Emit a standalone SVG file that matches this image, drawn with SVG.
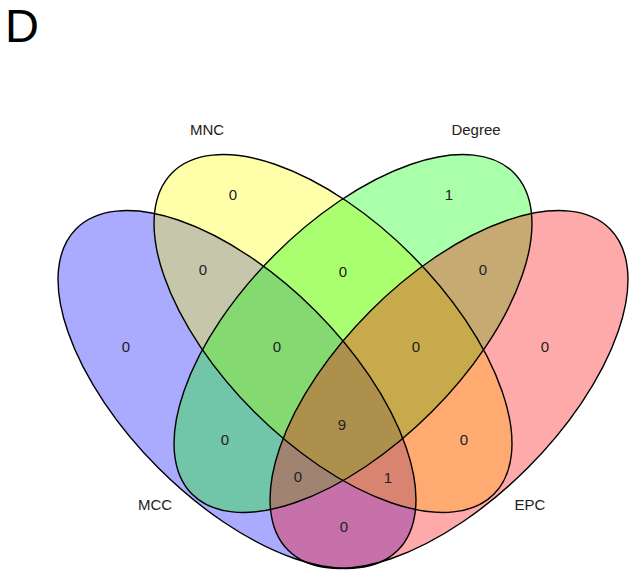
<svg xmlns="http://www.w3.org/2000/svg" width="642" height="578" viewBox="0 0 642 578">
<style>
.fill{stroke:none;fill-opacity:0.333}
.edge{fill:none;stroke:#000;stroke-width:1.4}
.lbl{font-family:"Liberation Sans",Arial,sans-serif;font-size:15px;fill:#222;text-anchor:middle}
.num{font-family:"Liberation Sans",Arial,sans-serif;font-size:15px;fill:#222;text-anchor:middle}
</style>
<rect width="642" height="578" fill="#fff"/>
<text x="5" y="42" font-family="Liberation Sans, Arial, sans-serif" font-size="47" fill="#000">D</text>
<g id="MCC">
<ellipse class="fill" cx="237" cy="389.5" rx="227.4" ry="111.1" fill="#0000ff" transform="rotate(45 237 389.5)"/>
</g>
<g id="MNC">
<ellipse class="fill" cx="333" cy="333.5" rx="227.4" ry="111.1" fill="#ffff00" transform="rotate(45 333 333.5)"/>
</g>
<g id="Degree">
<ellipse class="fill" cx="353" cy="333.5" rx="227.4" ry="111.1" fill="#00ff00" transform="rotate(-45 353 333.5)"/>
</g>
<g id="EPC">
<ellipse class="fill" cx="449" cy="389.5" rx="227.4" ry="111.1" fill="#ff0000" transform="rotate(-45 449 389.5)"/>
</g>
<g id="outlines">
<ellipse class="edge" cx="237" cy="389.5" rx="227.4" ry="111.1" transform="rotate(45 237 389.5)"/>
<ellipse class="edge" cx="333" cy="333.5" rx="227.4" ry="111.1" transform="rotate(45 333 333.5)"/>
<ellipse class="edge" cx="353" cy="333.5" rx="227.4" ry="111.1" transform="rotate(-45 353 333.5)"/>
<ellipse class="edge" cx="449" cy="389.5" rx="227.4" ry="111.1" transform="rotate(-45 449 389.5)"/>
</g>
<g id="labels">
<text class="lbl" x="207" y="135">MNC</text>
<text class="lbl" x="476" y="135">Degree</text>
<text class="lbl" x="155" y="510">MCC</text>
<text class="lbl" x="530" y="510">EPC</text>
</g>
<g id="counts">
<text class="num" x="233" y="200">0</text>
<text class="num" x="449" y="200">1</text>
<text class="num" x="203" y="275">0</text>
<text class="num" x="343" y="277">0</text>
<text class="num" x="483" y="275">0</text>
<text class="num" x="126" y="352">0</text>
<text class="num" x="277" y="352">0</text>
<text class="num" x="416" y="352">0</text>
<text class="num" x="545" y="352">0</text>
<text class="num" x="342" y="430">9</text>
<text class="num" x="225" y="445">0</text>
<text class="num" x="464" y="445">0</text>
<text class="num" x="298" y="482">0</text>
<text class="num" x="388" y="483">1</text>
<text class="num" x="344" y="532">0</text>
</g>
</svg>
